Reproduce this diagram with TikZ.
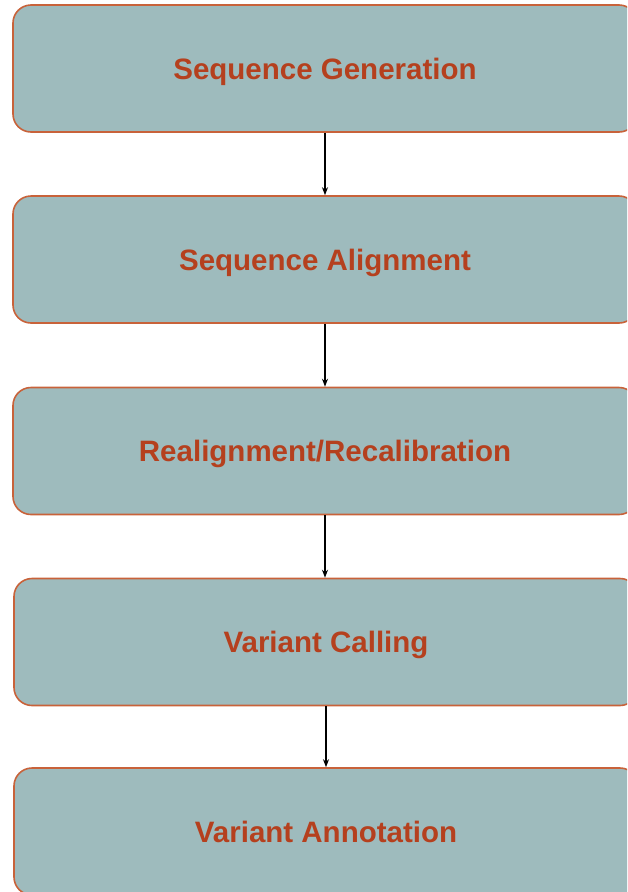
\documentclass[tikz,border=0pt]{standalone}
\usepackage{fontspec}
\setmainfont{Liberation Sans}
\usetikzlibrary{arrows.meta}
\definecolor{boxfill}{HTML}{9EBBBD}
\definecolor{boxline}{HTML}{C8623A}
\definecolor{boxtext}{HTML}{B5401E}
\tikzset{
  stage/.style={draw=boxline, line width=1.6pt, fill=boxfill, rounded corners=18pt,
    minimum width=624pt, minimum height=127pt, inner sep=0pt,
    text height=21pt, text depth=0pt,
    font=\fontsize{29.5pt}{34pt}\selectfont\bfseries, text=boxtext},
  flow/.style={draw=black, line width=1.3pt, -{Stealth[length=8pt,width=6pt]}}
}
\begin{document}
\begin{tikzpicture}[x=1pt,y=-1pt]
\useasboundingbox (0,0) rectangle (627,892);
\clip (0,0) rectangle (627,892);
\node[stage] (s1) at (325,68.5) {Sequence Generation};
\node[stage] (s2) at (325,259.5) {Sequence Alignment};
\node[stage] (s3) at (325,451) {Realignment/Recalibration};
\node[stage] (s4) at (326,642) {Variant Calling};
\node[stage] (s5) at (326,831.5) {Variant Annotation};
\draw[flow] (s1.south) -- (s2.north);
\draw[flow] (s2.south) -- (s3.north);
\draw[flow] (s3.south) -- (s3.south |- s4.north);
\draw[flow] (s4.south) -- (s5.north);
\end{tikzpicture}
\end{document}
